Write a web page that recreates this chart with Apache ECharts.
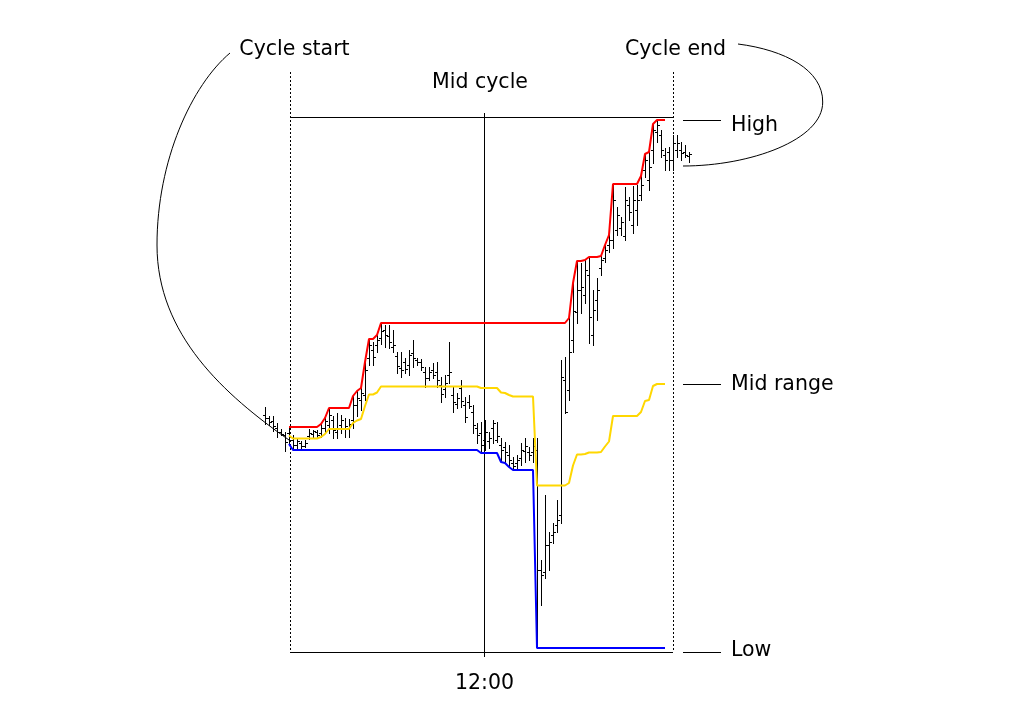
<!DOCTYPE html>
<html>
<head>
<meta charset="utf-8">
<script src="https://cdn.jsdelivr.net/npm/echarts@6/dist/echarts.min.js"></script>
<style>html,body{margin:0;padding:0;background:#fff}#c{width:1034px;height:725px}</style>
</head>
<body>
<div id="c"></div>
<script>
// Bar index (15-min bars); cycle runs from bar 0 to bar 96
const barIndex = [];
for (let k = -6; k <= 100; k++) barIndex.push(k);
const highs = [293,284,284,277,271,268,
  273,265,262,259,260,271,270,270,276,282,292,284,287,285,282,281,304,309,312,338,
  361,358,365,377,375,375,370,348,348,342,350,360,342,341,333,333,337,338,323,325,
  358,313,307,320,303,305,295,277,278,280,268,280,278,262,258,255,243,245,257,262,
  253,262,262,140,205,168,177,200,340,343,382,417,439,437,440,443,410,422,444,455,
  465,516,493,483,513,503,514,515,524,546,548,576,580,570,552,553,565,565,558,555,548];
const lows = [276,275,269,263,265,249,
  256,250,251,252,253,261,262,263,263,268,267,262,262,267,263,263,272,284,290,300,
  335,335,348,356,353,352,348,327,323,327,325,333,335,330,313,320,322,313,298,303,
  317,288,292,293,278,292,267,257,247,250,252,257,258,238,237,233,230,231,235,238,
  240,238,52,95,122,130,157,168,177,287,300,348,377,387,397,357,355,380,425,438,
  448,452,465,465,460,480,467,475,500,523,510,537,558,543,530,530,530,543,540,543,538];
const opens = [285,282,279,272,268,265,
  267,260,255,257,254,264,266,268,267,272,275,280,268,275,272,272,280,295,300,305,
  342,350,355,362,370,364,353,344,332,338,335,347,340,338,328,322,330,328,315,311,
  325,305,296,312,295,298,288,272,267,260,259,272,260,255,253,245,237,237,242,249,
  248,248,250,130,128,155,165,175,185,320,310,360,388,410,405,425,365,400,432,442,
  455,460,470,472,464,495,475,490,505,530,520,550,568,565,545,548,540,550,550,548,544];
const closes = [282,278,274,268,266,258,
  263,255,259,254,257,267,269,265,272,279,285,270,272,280,274,276,295,302,307,330,
  355,343,360,369,365,358,355,334,330,331,345,342,338,333,322,328,325,320,306,317,
  328,298,302,299,283,294,275,265,255,268,262,277,264,250,248,240,234,240,250,254,
  245,254,130,125,155,158,168,180,323,288,348,389,410,413,430,383,390,410,440,450,
  460,500,485,478,500,488,500,500,515,540,533,570,575,550,540,540,557,557,547,545,546];
const cycleStartBar = 0, lastLineBar = 94;
const timeLabels = ['12:00'];

// Running high / low / mid range of the cycle, derived from the bars
const highLine = [], lowLine = [], midLine = [];
let hi = -Infinity, lo = Infinity;
barIndex.forEach((k, i) => {
  if (k < cycleStartBar || k > lastLineBar) return;
  hi = Math.max(hi, highs[i]); lo = Math.min(lo, lows[i]);
  highLine.push([k, hi]); lowLine.push([k, lo]); midLine.push([k, (hi + lo) / 2]);
});
const finalHigh = hi, finalMid = (hi + lo) / 2;

// guide positions (data coordinates)
const xStart = 0.25, xEnd = 96, xMid = 48.75, xLabL = 98.5, xLabR = 108;
const frameTop = 583, frameBottom = 48, dashTop = 628, midTop = 587, midBottom = 43;
const guides = [
  [xStart, frameTop, xEnd, frameTop, 0],
  [xStart, frameBottom, xEnd, frameBottom, 0],
  [xStart, dashTop, xStart, frameBottom, 1],
  [xEnd, dashTop, xEnd, frameBottom, 1],
  [xMid, midTop, xMid, midBottom, 0],
  [xLabL, finalHigh, xLabR, finalHigh, 0],
  [xLabL, finalMid, xLabR, finalMid, 0],
  [xLabL, frameBottom, xLabR, frameBottom, 0]
];

const ohlc = barIndex.map((k, i) => [k, opens[i], closes[i], lows[i], highs[i]]);

const chart = echarts.init(document.getElementById('c'));
const FONT = 'DejaVu Sans';
const crisp = v => Math.round(v) + 0.5;
const txt = (text, x, y, align) => ({ type: 'text', x: x, y: y,
  style: { text: text, font: '20.5px ' + FONT, fill: '#000', textAlign: align, textVerticalAlign: 'middle' } });
const curve = s => ({ type: 'bezierCurve', shape: s, style: { stroke: '#000', lineWidth: 1, fill: null } });
chart.setOption({
  animation: false,
  backgroundColor: '#fff',
  grid: { left: 249, width: 480, top: 60, height: 600 },
  xAxis: { type: 'value', min: -10, max: 110, show: false },
  yAxis: { type: 'value', min: 40, max: 640, show: false },
  series: [
    {
      type: 'custom', name: 'guides', z: 1, silent: true, clip: false,
      data: guides,
      renderItem: function (params, api) {
        const a = api.coord([api.value(0), api.value(1)]);
        const b = api.coord([api.value(2), api.value(3)]);
        const dashed = api.value(4) === 1;
        const vertical = Math.abs(a[0] - b[0]) < 0.5;
        const shape = vertical
          ? { x1: crisp(a[0]), y1: Math.round(a[1]), x2: crisp(a[0]), y2: Math.round(b[1]) }
          : { x1: Math.round(a[0]), y1: crisp(a[1]), x2: Math.round(b[0]), y2: crisp(a[1]) };
        return { type: 'line', shape: shape,
          style: { stroke: '#000', lineWidth: 1, lineDash: dashed ? [2, 2] : null } };
      }
    },
    {
      type: 'custom', name: 'bars', z: 2, silent: true, clip: false,
      data: ohlc,
      encode: { x: 0, y: [1, 2, 3, 4] },
      renderItem: function (params, api) {
        const k = api.value(0);
        const o = api.coord([k, api.value(1)]);
        const c = api.coord([k, api.value(2)]);
        const l = api.coord([k, api.value(3)]);
        const h = api.coord([k, api.value(4)]);
        const x = crisp(h[0]);
        const st = { stroke: '#000', lineWidth: 1 };
        return { type: 'group', children: [
          { type: 'line', shape: { x1: x, y1: Math.round(h[1]), x2: x, y2: Math.round(l[1]) + 1 }, style: st },
          { type: 'line', shape: { x1: x - 2.5, y1: crisp(o[1]), x2: x, y2: crisp(o[1]) }, style: st },
          { type: 'line', shape: { x1: x, y1: crisp(c[1]), x2: x + 2.5, y2: crisp(c[1]) }, style: st }
        ]};
      }
    },
    { type: 'line', name: 'Mid range', data: midLine, symbol: 'none', z: 3, silent: true,
      lineStyle: { color: '#ffd700', width: 2 } },
    { type: 'line', name: 'High', data: highLine, symbol: 'none', z: 4, silent: true,
      lineStyle: { color: '#ff0000', width: 2 } },
    { type: 'line', name: 'Low', data: lowLine, symbol: 'none', z: 4, silent: true,
      lineStyle: { color: '#0000ff', width: 2 } }
  ],
  graphic: [
    txt('Cycle start', 294.5, 50, 'center'),
    txt('Mid cycle', 480, 83, 'center'),
    txt('Cycle end', 675.5, 50, 'center'),
    txt('High', 731, 126, 'left'),
    txt('Mid range', 731, 385, 'left'),
    txt('Low', 731, 651, 'left'),
    txt(timeLabels[0], 484.5, 684, 'center'),
    curve({ x1: 230, y1: 53, cpx1: 192, cpy1: 85, cpx2: 157, cpy2: 160, x2: 157, y2: 245 }),
    curve({ x1: 157, y1: 245, cpx1: 157, cpy1: 335, cpx2: 225, cpy2: 395, x2: 289, y2: 440 }),
    curve({ x1: 738, y1: 44, cpx1: 785, cpy1: 50, cpx2: 823, cpy2: 70, x2: 822.7, y2: 102 }),
    curve({ x1: 822.7, y1: 102, cpx1: 823, cpy1: 140, cpx2: 750, cpy2: 166, x2: 683, y2: 166 })
  ]
});
</script>
</body>
</html>
